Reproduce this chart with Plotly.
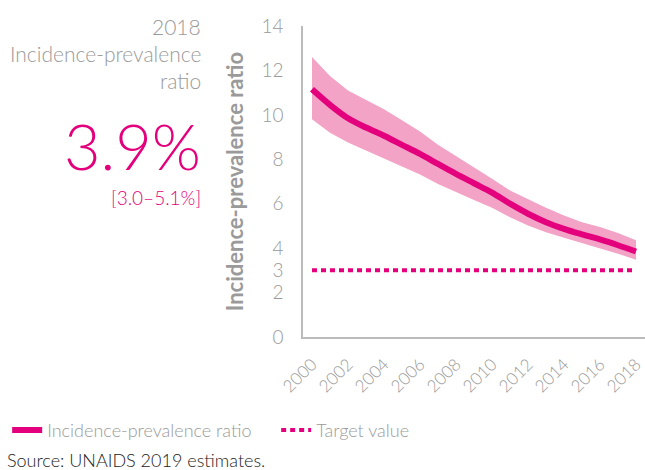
import plotly.graph_objects as go

# Incidence-prevalence ratio
years = list(range(2000, 2019))
ratio = [11.15, 10.45, 9.85, 9.43, 9.06, 8.65, 8.24, 7.79, 7.34, 6.92,
         6.50, 6.00, 5.55, 5.17, 4.87, 4.62, 4.39, 4.13, 3.85]
upper = [12.6, 11.75, 11.1, 10.66, 10.25, 9.76, 9.25, 8.65, 8.15, 7.64,
         7.12, 6.59, 6.19, 5.82, 5.47, 5.17, 4.95, 4.68, 4.35]
lower = [9.8, 9.2, 8.76, 8.39, 8.04, 7.68, 7.31, 6.89, 6.52, 6.17,
         5.82, 5.39, 5.02, 4.72, 4.47, 4.23, 4.0, 3.75, 3.48]
target = [3.0] * len(years)
y_ticks = [0, 2, 3, 4, 6, 8, 10, 12, 14]

MAGENTA = "#E4007C"
BAND = "#F2A3C6"
GREY = "#9A9A9A"
FONT = "Lato"

fig = go.Figure()

# uncertainty band
fig.add_trace(go.Scatter(x=years, y=upper, mode="lines", line=dict(width=0),
                         showlegend=False, hoverinfo="skip"))
fig.add_trace(go.Scatter(x=years, y=lower, mode="lines", line=dict(width=0),
                         fill="tonexty", fillcolor=BAND,
                         showlegend=False, hoverinfo="skip"))

fig.add_trace(go.Scatter(x=years, y=ratio, mode="lines", name="Incidence-prevalence ratio",
                         line=dict(color=MAGENTA, width=6, shape="spline")))
fig.add_trace(go.Scatter(x=years, y=target, mode="lines", name="Target value",
                         line=dict(color=MAGENTA, width=4, dash="5px,4px")))

fig.update_layout(
    width=645, height=470,
    margin=dict(l=303, r=0, t=26, b=133),
    plot_bgcolor="white", paper_bgcolor="white",
    font=dict(family=FONT, color=GREY, size=18, weight=300),
    legend=dict(orientation="h", x=-0.865, xanchor="left", y=-0.30, yanchor="middle",
                traceorder="normal", entrywidth=224,
                font=dict(size=18, color=GREY, weight=300)),
)

fig.update_xaxes(
    range=[1999.5, 2018.5], tickvals=years[::2], tickangle=-45, automargin=False,
    ticklabeloverflow="allow",
    showgrid=False, zeroline=False, showline=True, linecolor="#BBBBBB", linewidth=1.5,
    tickfont=dict(size=17, color=GREY), ticks="", ticklabelstandoff=9,
)
fig.update_yaxes(
    range=[0, 14], tickvals=y_ticks, showgrid=False, zeroline=False, automargin=False,
    showline=True, linecolor="#BBBBBB", linewidth=1.5,
    tickfont=dict(size=19, color=GREY), ticks="", ticklabelstandoff=14,
    title=dict(text="<b>Incidence-prevalence ratio</b>", standoff=12,
               font=dict(size=22, color=GREY, weight=700)),
)

# left-hand summary panel
left_x = -0.292
for txt, yy in [("2018", 1.0), ("Incidence-prevalence", 0.913), ("ratio", 0.826)]:
    fig.add_annotation(text=txt, xref="paper", yref="paper", x=left_x, y=yy,
                       xanchor="right", yanchor="middle", showarrow=False,
                       font=dict(size=21, color=GREY, weight=300))
fig.add_annotation(text="3.9%", xref="paper", yref="paper", x=left_x, y=0.617,
                   xanchor="right", yanchor="middle", showarrow=False,
                   font=dict(size=63, color=MAGENTA, weight=300))
fig.add_annotation(text="[3.0–5.1%]", xref="paper", yref="paper", x=left_x, y=0.45,
                   xanchor="right", yanchor="middle", showarrow=False,
                   font=dict(size=19, color=MAGENTA, weight=300))

fig.add_annotation(text="Source: UNAIDS 2019 estimates.", xref="paper", yref="paper",
                   x=-0.871, y=-0.395, xanchor="left", yanchor="middle", showarrow=False,
                   font=dict(size=18, color="#222222", weight=300))

# drop the browser's default body margin so the figure sits at the page origin
fig.write_html("out.html", config={"displayModeBar": False},
               post_script="document.body.style.margin='0';")
